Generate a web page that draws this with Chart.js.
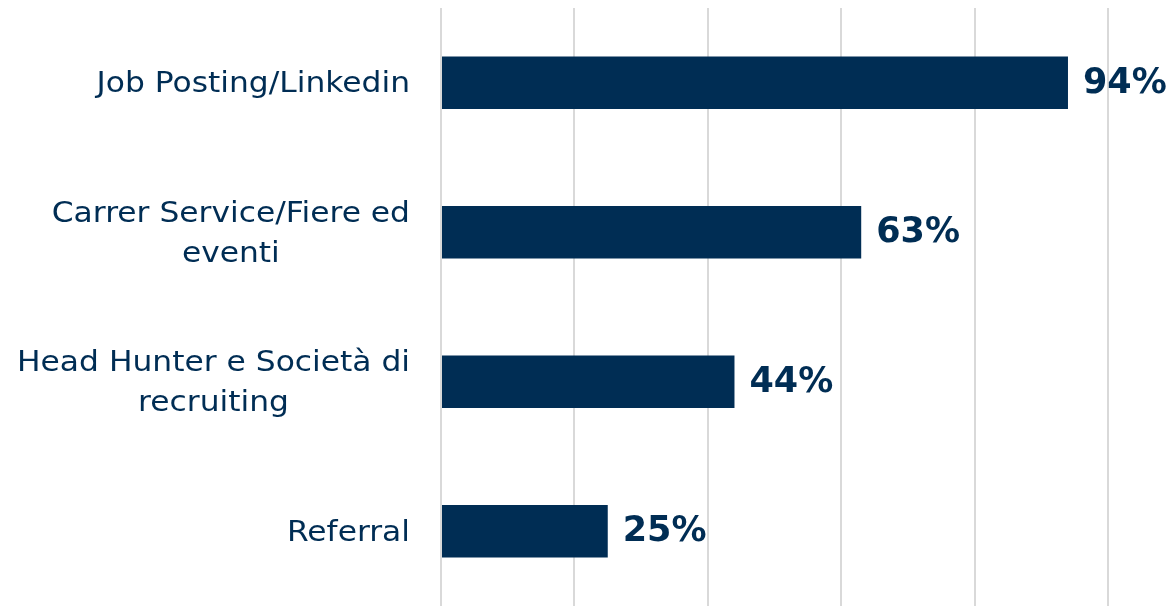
<!DOCTYPE html>
<html lang="it">
<head>
    <meta charset="UTF-8">
    <title>Canali di recruiting</title>
    <script src="https://cdn.jsdelivr.net/npm/chart.js@4.4.0/dist/chart.umd.min.js"></script>
    <style>
        html, body { margin: 0; padding: 0; background: #ffffff; }
        #wrap { width: 1169px; height: 606px; }
    </style>
</head>
<body>
    <div id="wrap"><canvas id="myChart" width="1169" height="606"></canvas></div>

    <script>
        // Categories (multi-line labels) and values in percent
        var categories = [
            ["Job Posting/Linkedin"],
            ["Carrer Service/Fiere ed", "eventi"],
            ["Head Hunter e Società di", "recruiting"],
            ["Referral"]
        ];
        var values = [94, 63, 44, 25];
        var xTicks = [0, 20, 40, 60, 80, 100];

        var navy = "#002d54";
        var labelFont = "29px 'DejaVu Sans', sans-serif";
        var labelStretch = 1.08; // the original font is a bit wider than DejaVu
        var valueFont = "bold 35px 'DejaVu Sans', sans-serif";

        // Draws category labels (block right-aligned, lines centered) and value labels
        var labelPlugin = {
            id: "labelPlugin",
            afterDatasetsDraw: function (chart) {
                var ctx = chart.ctx;
                var yScale = chart.scales.y;
                var meta = chart.getDatasetMeta(0);
                ctx.save();
                ctx.fillStyle = navy;
                ctx.textBaseline = "middle";

                // value labels
                ctx.font = valueFont;
                ctx.textAlign = "left";
                meta.data.forEach(function (bar, i) {
                    ctx.fillText(values[i] + "%", bar.x + 15, bar.y + 1);
                });

                // category labels
                ctx.font = labelFont;
                ctx.textAlign = "center";
                var lineH = 40;
                var rightEdge = chart.chartArea.left - 31;
                categories.forEach(function (lines, i) {
                    var y = yScale.getPixelForTick(i);
                    var w = 0;
                    lines.forEach(function (l) { w = Math.max(w, ctx.measureText(l).width * labelStretch); });
                    var cx = rightEdge - w / 2;
                    var y0 = y + 2 - (lines.length - 1) * lineH / 2;
                    lines.forEach(function (l, j) {
                        ctx.save();
                        ctx.translate(cx, y0 + j * lineH);
                        ctx.scale(labelStretch, 1);
                        ctx.fillText(l, 0, 0);
                        ctx.restore();
                    });
                });
                ctx.restore();
            }
        };

        var ctx = document.getElementById("myChart").getContext("2d");
        var chart = new Chart(ctx, {
            type: "bar",
            data: {
                labels: categories,
                datasets: [{
                    data: values,
                    backgroundColor: navy,
                    borderWidth: 0,
                    barPercentage: 0.7,
                    categoryPercentage: 0.5
                }]
            },
            options: {
                indexAxis: "y",
                responsive: false,
                animation: false,
                layout: { padding: { top: 8, right: 61, bottom: 0, left: 0 } },
                plugins: {
                    legend: { display: false },
                    tooltip: { enabled: false }
                },
                scales: {
                    x: {
                        min: xTicks[0],
                        max: xTicks[xTicks.length - 1],
                        afterBuildTicks: function (scale) {
                            scale.ticks = xTicks.map(function (v) { return { value: v }; });
                        },
                        ticks: { display: false },
                        border: { display: false },
                        grid: { color: "#d9d9d9", lineWidth: 2, drawTicks: false },
                        afterFit: function (scale) { scale.height = 0; }
                    },
                    y: {
                        ticks: { display: false },
                        border: { display: false },
                        grid: { display: false },
                        afterFit: function (scale) { scale.width = 441; }
                    }
                }
            },
            plugins: [labelPlugin]
        });
    </script>
</body>
</html>
